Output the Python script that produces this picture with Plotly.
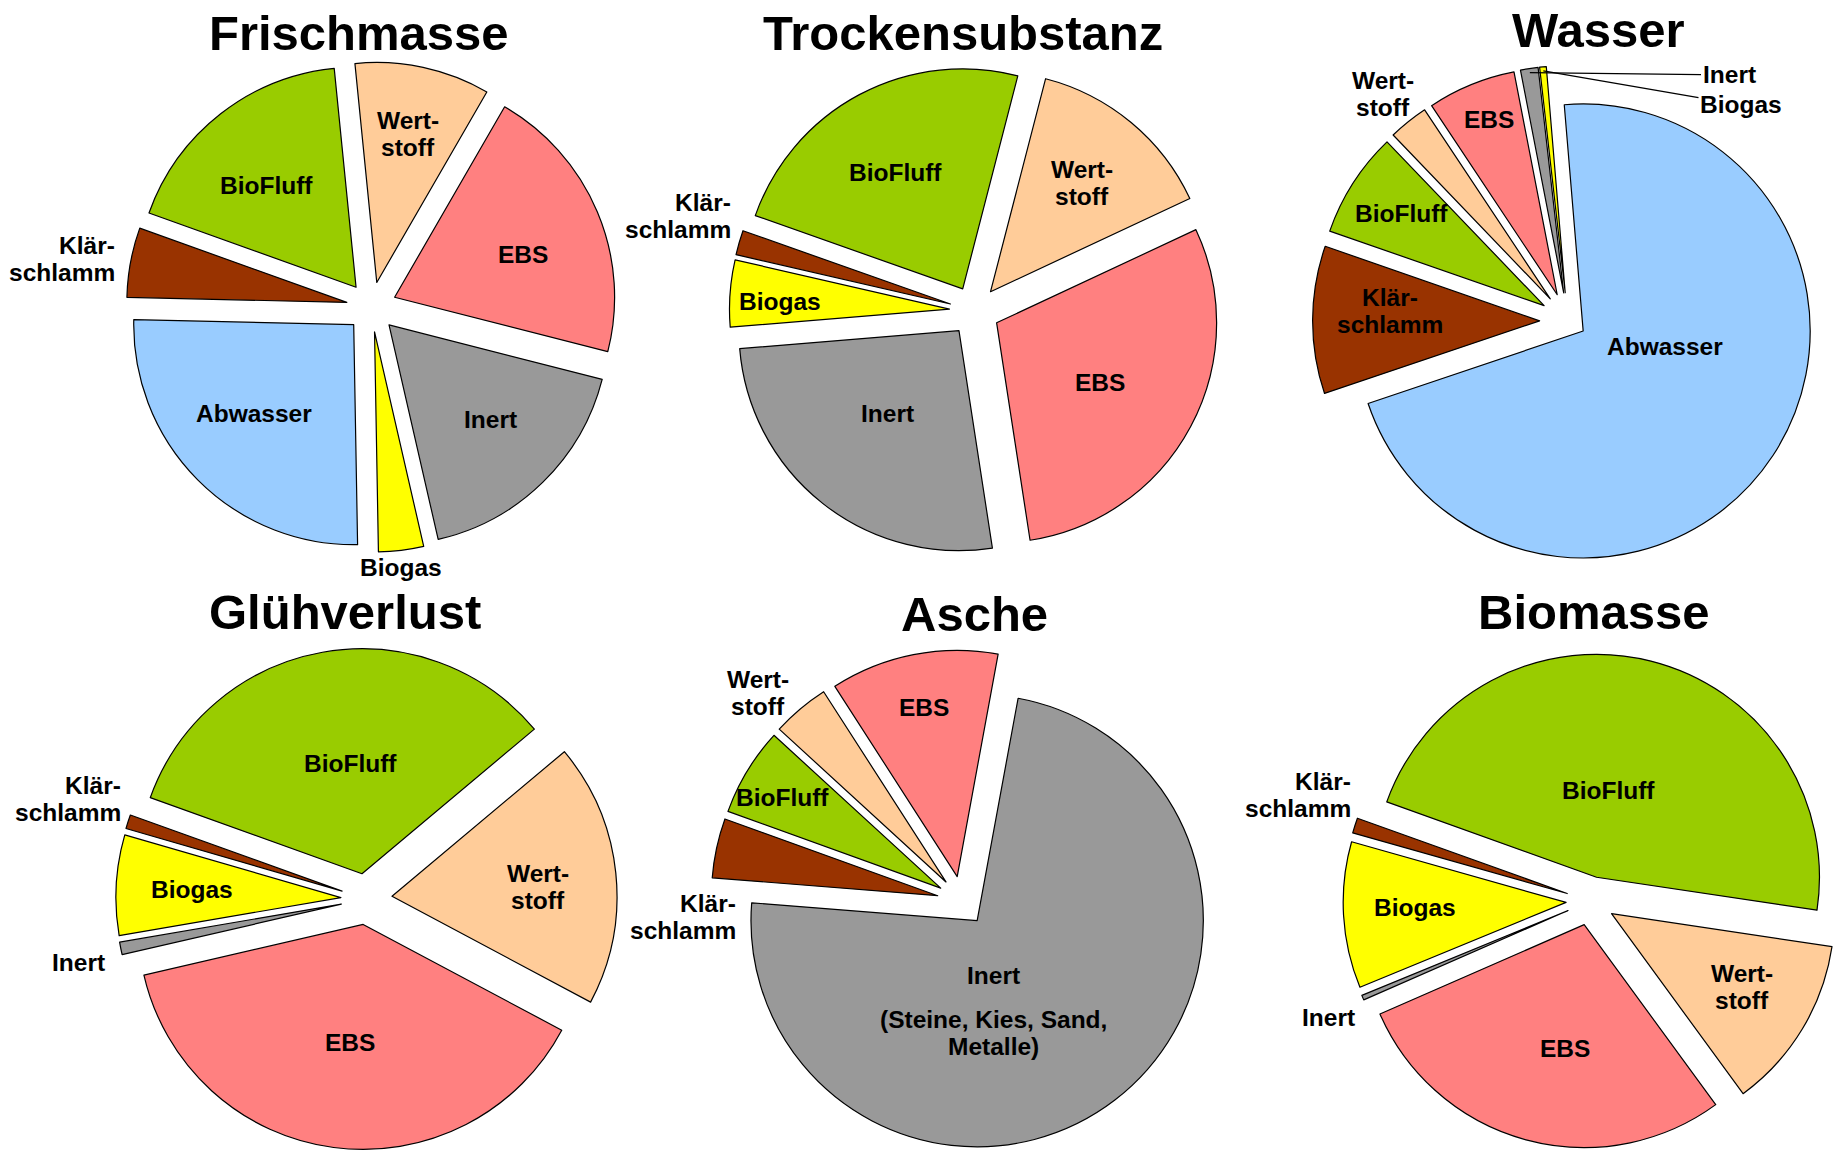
import math
import plotly.graph_objects as go

W, H = 1838, 1152

# ---------------- data (percent shares) ----------------
categories = ["Wertstoff", "EBS", "Inert", "Biogas", "Abwasser", "Klärschlamm", "BioFluff"]

frischmasse     = [9.9, 20.6, 17.4, 3.3, 25.6, 5.1, 17.9]
trockensubstanz = [14.0, 29.5, 26.1, 4.9, 0.0, 1.8, 23.6]
wasser          = [2.83, 6.28, 1.25, 0.47, 71.1, 10.5, 7.5]
gluehverlust    = [18.9, 38.6, 0.9, 7.2, 0.0, 1.0, 33.4]
asche           = [4.1, 12.0, 73.4, 0.0, 0.0, 4.25, 6.3]
biomasse        = [12.6, 28.5, 0.35, 10.6, 0.0, 1.1, 46.9]

titles = ["Frischmasse", "Trockensubstanz", "Wasser", "Glühverlust", "Asche", "Biomasse"]
series = [frischmasse, trockensubstanz, wasser, gluehverlust, asche, biomasse]

# ---------------- styles ----------------
colors = {
    "Wertstoff": "#FFCC99",
    "EBS": "#FF8080",
    "Inert": "#999999",
    "Biogas": "#FFFF00",
    "Abwasser": "#99CCFF",
    "Klärschlamm": "#993300",
    "BioFluff": "#99CC00",
}
FONT = "Liberation Sans, Arial, sans-serif"

# pie geometry in pixels: centre, radius, start angle, explode
geom = {
    "Frischmasse":     dict(cx=371.5, cy=307, r=220, rotation=-5.7, pull={}, pd=0.114, title=(359, 33)),
    "Trockensubstanz": dict(cx=974.5, cy=311, r=220, rotation=14.5, pull={}, pd=0.114, title=(963, 33)),
    "Wasser":          dict(cx=1568, cy=321, r=227, rotation=-43.8,
                            pull={"Abwasser": 0.08}, pd=0.125, title=(1598, 30)),
    "Glühverlust":     dict(cx=366.5, cy=899, r=225, rotation=50.0, pull={}, pd=0.114, title=(345, 612)),
    "Asche":           dict(cx=962, cy=903, r=228, rotation=-47.5, pull={}, pd=0.11, title=(974, 614)),
    "Biomasse":        dict(cx=1594, cy=901, r=226, rotation=98.5, pull={}, pd=0.11, title=(1594, 612)),
}

# slice labels: (text, x, y, anchor)
labels = {
    "Frischmasse": [("Wert-<br>stoff", 408, 134, "center"), ("EBS", 523, 255, "center"),
                    ("BioFluff", 266, 185, "center"), ("Klär-<br>schlamm", 117, 259, "right"),
                    ("Abwasser", 254, 413, "center"), ("Inert", 490, 420, "center"),
                    ("Biogas", 401, 567, "center")],
    "Trockensubstanz": [("BioFluff", 895, 172, "center"), ("Wert-<br>stoff", 1082, 183, "center"),
                        ("Klär-<br>schlamm", 733, 216, "right"), ("Biogas", 780, 301, "center"),
                        ("Inert", 887, 413, "center"), ("EBS", 1100, 382, "center")],
    "Wasser": [("Wert-<br>stoff", 1383, 94, "center"), ("EBS", 1489, 120, "center"),
               ("BioFluff", 1401, 213, "center"), ("Klär-<br>schlamm", 1390, 311, "center"),
               ("Abwasser", 1665, 346, "center")],
    "Glühverlust": [("BioFluff", 350, 763, "center"), ("Wert-<br>stoff", 538, 887, "center"),
                    ("EBS", 350, 1042, "center"), ("Biogas", 192, 889, "center"),
                    ("Klär-<br>schlamm", 123, 799, "right"), ("Inert", 78, 962, "center")],
    "Asche": [("EBS", 924, 707, "center"), ("Wert-<br>stoff", 758, 693, "center"),
              ("BioFluff", 782, 797, "center"), ("Klär-<br>schlamm", 738, 917, "right"),
              ("Inert", 994, 975, "center"), ("(Steine, Kies, Sand,<br>Metalle)", 994, 1033, "center")],
    "Biomasse": [("BioFluff", 1608, 790, "center"), ("Klär-<br>schlamm", 1353, 795, "right"),
                 ("Biogas", 1415, 907, "center"), ("Inert", 1328, 1017, "center"),
                 ("EBS", 1565, 1048, "center"), ("Wert-<br>stoff", 1742, 987, "center")],
}
# leader-line labels in the Wasser chart: (category, text x, text y)
leaders = [("Inert", 1729, 75), ("Biogas", 1741, 105)]

LINE_GAP = 27
LABEL_SIZE = 24.5
TITLE_SIZE = 49

fig = go.Figure()
annotations = []


def px(x):
    return x / W


def py(y):
    return 1 - y / H


for title, vals in zip(titles, series):
    g = geom[title]
    cats = [c for c, v in zip(categories, vals) if v > 0]
    vv = [v for v in vals if v > 0]
    pulls = [g["pull"].get(c, g["pd"]) for c in cats]
    mp = max(pulls)
    h = g["r"] * (1 + mp)
    x0, x1 = max(0.0, (g["cx"] - h) / W), min(1.0, (g["cx"] + h) / W)
    y0, y1 = max(0.0, 1 - (g["cy"] + h) / H), min(1.0, 1 - (g["cy"] - h) / H)
    fig.add_trace(go.Pie(
        labels=cats, values=vv, sort=False, direction="clockwise",
        rotation=g["rotation"], pull=pulls,
        marker=dict(colors=[colors[c] for c in cats], line=dict(color="#000000", width=1.2)),
        textinfo="none", hoverinfo="label+percent", showlegend=False,
        domain=dict(x=[x0, x1], y=[y0, y1]), name=title,
    ))
    tx, ty = g["title"]
    annotations.append(dict(text=title, x=px(tx), y=py(ty), xref="paper", yref="paper",
                            showarrow=False, xanchor="center", yanchor="middle",
                            font=dict(family=FONT, size=TITLE_SIZE, color="#000000", weight="bold")))
    for text, lx, ly, anchor in labels[title]:
        lines = text.split("<br>")
        n = len(lines)
        for i, line in enumerate(lines):
            yy = ly + (i - (n - 1) / 2) * LINE_GAP
            annotations.append(dict(text=line, x=px(lx), y=py(yy), xref="paper", yref="paper",
                                    showarrow=False, xanchor=anchor, yanchor="middle",
                                    font=dict(family=FONT, size=LABEL_SIZE, color="#000000", weight="bold")))

# leader lines in the Wasser chart, pointing at the slices computed from the data
g = geom["Wasser"]
total = sum(wasser)
for cat, tx, ty in leaders:
    idx = categories.index(cat)
    start = g["rotation"] + 360 * sum(v for v in wasser[:idx]) / total
    mid = start + 180 * wasser[idx] / total
    pull = g["pull"].get(cat, g["pd"])
    rr = g["r"] * (1 + pull) - 4
    ax_pt = g["cx"] + rr * math.sin(math.radians(mid))
    ay_pt = g["cy"] - rr * math.cos(math.radians(mid))
    annotations.append(dict(text=cat, x=px(ax_pt), y=py(ay_pt), xref="paper", yref="paper",
                            showarrow=True, arrowhead=0, arrowwidth=1.3, arrowcolor="#000000",
                            ax=tx - ax_pt, ay=ty - ay_pt, xanchor="center", yanchor="middle",
                            font=dict(family=FONT, size=LABEL_SIZE, color="#000000", weight="bold")))

fig.update_layout(
    width=W, height=H, autosize=False,
    margin=dict(l=0, r=0, t=0, b=0),
    paper_bgcolor="#FFFFFF", plot_bgcolor="#FFFFFF",
    annotations=annotations,
    font=dict(family=FONT),
)

fig.write_html("out.html", config={"displayModeBar": False},
               post_script="document.body.style.margin='0';")
